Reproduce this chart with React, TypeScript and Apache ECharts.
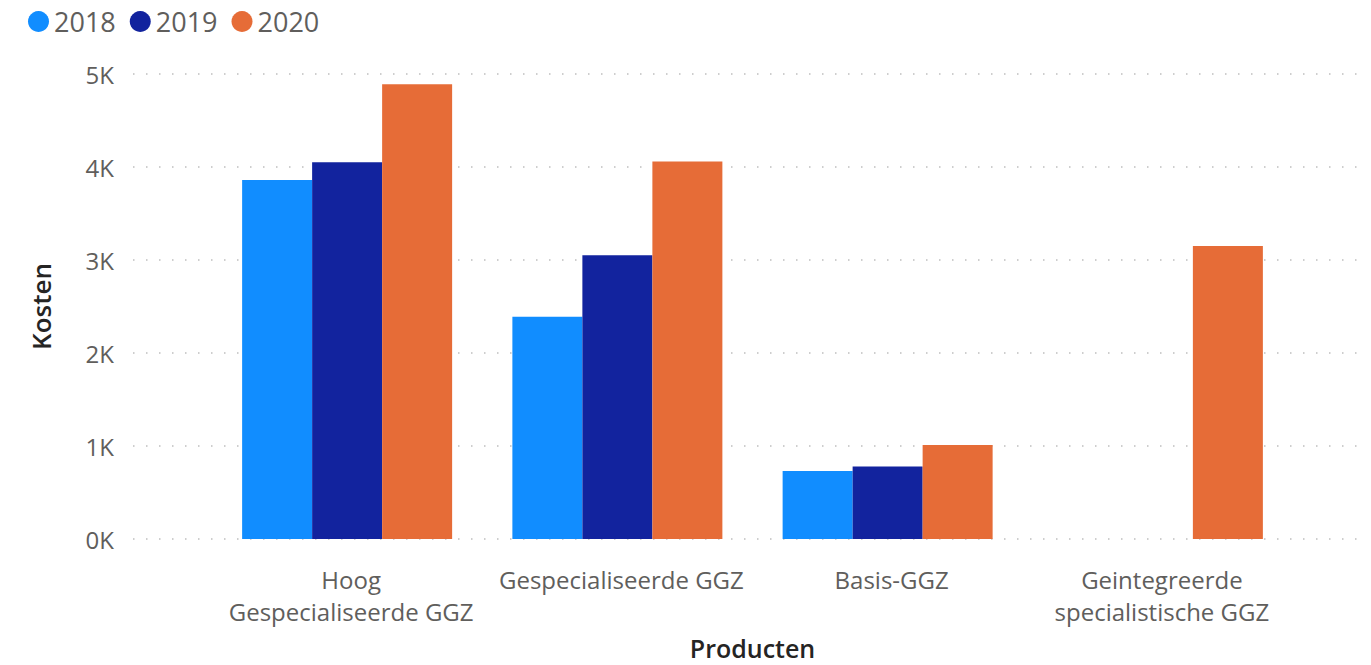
import React, { useEffect, useRef } from "react";
import * as echarts from "echarts";

const categories = [
  "Hoog\nGespecialiseerde GGZ",
  "Gespecialiseerde GGZ",
  "Basis-GGZ",
  "Geintegreerde\nspecialistische GGZ",
];
const years = ["2018", "2019", "2020"];
const values2018: (number | null)[] = [3860, 2390, 730, null];
const values2019: (number | null)[] = [4050, 3050, 780, null];
const values2020: (number | null)[] = [4890, 4060, 1010, 3150];
const yTicks = [0, 1000, 2000, 3000, 4000, 5000];
const colors = ["#118DFF", "#12239E", "#E66C37"];

const FONT = "'Open Sans', 'Noto Sans', sans-serif";

export default function App() {
  const ref = useRef<HTMLDivElement>(null);
  useEffect(() => {
    if (!ref.current) return;
    const chart = echarts.init(ref.current, undefined, { renderer: "svg" });
    const seriesData = [values2018, values2019, values2020];
    chart.setOption({
      animation: false,
      textStyle: { fontFamily: FONT },
      legend: {
        left: 23,
        top: 3,
        icon: "circle",
        itemWidth: 21,
        itemHeight: 21,
        itemGap: 14,
        data: years,
        textStyle: { fontSize: 27, color: "#605E5C", fontFamily: FONT },
      },
      grid: [
        { left: 133, right: 5, top: 74, bottom: 126, containLabel: false, outerBoundsMode: "none" },
        { left: 212, right: 78, top: 74, bottom: 126, containLabel: false, outerBoundsMode: "none" },
      ],
      xAxis: [
        {
          gridIndex: 0,
          type: "value",
          min: 0,
          max: 1,
          show: false,
        },
        {
          gridIndex: 1,
          type: "category",
          data: categories,
          axisLine: { show: false },
          axisTick: { show: false },
          axisLabel: {
            interval: 0,
            fontSize: 24,
            lineHeight: 32,
            color: "#605E5C",
            margin: 24,
            fontFamily: FONT,
            padding: [0, 0, 0, 8],
          },
          name: "Producten",
          nameLocation: "middle",
          nameGap: 96,
          nameTextStyle: {
            fontSize: 25,
            lineHeight: 25,
            fontWeight: 600,
            color: "#252423",
            fontFamily: FONT,
          },
        },
      ],
      yAxis: [
        {
          gridIndex: 0,
          type: "value",
          min: yTicks[0],
          max: yTicks[yTicks.length - 1],
          interval: 1000,
          axisLine: { show: false },
          axisTick: { show: false },
          axisLabel: {
            fontSize: 24,
            color: "#605E5C",
            margin: 19,
            fontFamily: FONT,
            formatter: (v: number) => `${v / 1000}K`,
          },
          splitLine: {
            show: true,
            lineStyle: { color: "#BEBEBE", width: 1.7, type: [1.5, 11.5] },
          },
          name: "Kosten",
          nameLocation: "middle",
          nameGap: 79,
          nameTextStyle: { fontSize: 26, fontWeight: 600, color: "#252423", fontFamily: FONT },
        },
        {
          gridIndex: 1,
          type: "value",
          min: yTicks[0],
          max: yTicks[yTicks.length - 1],
          interval: 1000,
          show: false,
          splitLine: { show: false },
        },
      ],
      series: years.map((y, i) => ({
        name: y,
        type: "bar",
        xAxisIndex: 1,
        yAxisIndex: 1,
        barWidth: 70,
        barGap: "0%",
        itemStyle: { color: colors[i] },
        data: seriesData[i],
      })),
    });
    return () => chart.dispose();
  }, []);
  return <div ref={ref} style={{ width: 1371, height: 665, position: "absolute", left: 0, top: 0 }} />;
}
